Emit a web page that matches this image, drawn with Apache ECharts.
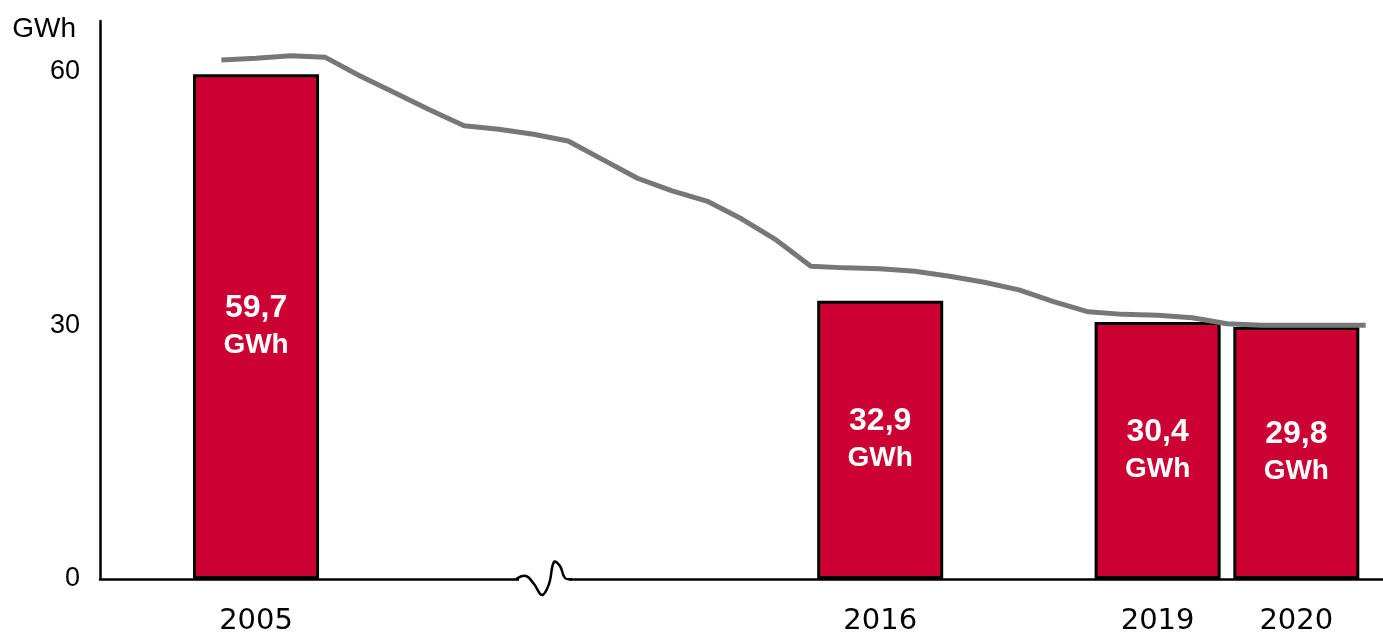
<!DOCTYPE html>
<html>
<head>
<meta charset="utf-8">
<script src="https://cdn.jsdelivr.net/npm/echarts@6/dist/echarts.min.js"></script>
<style>
  html, body { margin: 0; padding: 0; background: #fff; }
  #chart { width: 1383px; height: 638px; }
</style>
</head>
<body>
<div id="chart"></div>
<script>
  // axis slots, the gap between 2005 and 2016 is squeezed (axis break)
  const axisSlots = [
    '', '', '', '', '2005', '', '', '', '', '', '', '', '', '', '', '', '', '', '', '', '', '',
    '2016', '', '', '', '', '', '', '', '2019', '', '', '', '2020', '', ''
  ]
  const years = ['2005', '2016', '2019', '2020']
  const energy = [59.7, 32.9, 30.4, 29.8] // GWh
  const energyText = ['59,7', '32,9', '30,4', '29,8']
  // grey trend line, one value per slot
  const trend = [
    null, null, null, 61.4, 61.6, 61.9, 61.7, 59.5, 57.5, 55.5, 53.6, 53.2, 52.6, 51.8,
    49.6, 47.4, 45.9, 44.7, 42.6, 40.1, 37.0, 36.8, 36.7, 36.4, 35.8, 35.1, 34.2, 32.8,
    31.6, 31.3, 31.2, 30.9, 30.2, 30.0, 30.0, 30.0, 30.0
  ]
  const yTicks = [0, 30, 60]

  const barData = axisSlots.map(s => {
    const i = years.indexOf(s)
    return s && i > -1 ? energy[i] : null
  })

  const chart = echarts.init(document.getElementById('chart'))
  chart.setOption({
    animation: false,
    grid: { left: 100, right: 0, top: 21, bottom: 59 },
    xAxis: {
      type: 'category',
      data: axisSlots,
      axisLine: { lineStyle: { color: '#000', width: 2.5 } },
      axisTick: { show: false },
      axisLabel: {
        interval: 0,
        margin: 28,
        fontSize: 29,
        color: '#000',
        fontFamily: 'DejaVu Sans'
      },
      splitLine: { show: false }
    },
    yAxis: {
      type: 'value',
      min: 0,
      max: 66,
      interval: 30,
      name: 'GWh',
      nameLocation: 'end',
      nameGap: -8,
      nameTextStyle: {
        align: 'right',
        verticalAlign: 'middle',
        fontSize: 28,
        color: '#000',
        fontFamily: 'Liberation Sans',
        padding: [0, 24, 0, 0]
      },
      axisLine: { show: true, lineStyle: { color: '#000', width: 2.5 } },
      axisTick: { show: false },
      splitLine: { show: false },
      axisLabel: {
        margin: 20,
        fontSize: 27,
        color: '#000',
        fontFamily: 'Liberation Sans',
        formatter: v => (yTicks.indexOf(v) > -1 ? v : '')
      }
    },
    series: [
      {
        name: 'Energie',
        type: 'bar',
        data: barData,
        barWidth: 126,
        itemStyle: { color: '#cc0033', borderColor: '#000', borderWidth: 3 },
        label: {
          show: true,
          position: 'inside',
          formatter: p => '{v|' + energyText[years.indexOf(p.name)] + '}\n{u|GWh}',
          rich: {
            v: { fontSize: 32, fontWeight: 'bold', color: '#fff', fontFamily: 'Liberation Sans', lineHeight: 37 },
            u: { fontSize: 28, fontWeight: 'bold', color: '#fff', fontFamily: 'Liberation Sans', lineHeight: 37 }
          }
        },
        z: 2
      },
      {
        name: 'Verlauf',
        type: 'line',
        data: trend,
        symbol: 'none',
        lineStyle: { color: '#777', width: 5 },
        z: 3
      }
    ],
    graphic: [
      // break mark on the x axis
      { type: 'rect', shape: { x: 519, y: 573, width: 50, height: 12 }, style: { fill: '#fff' }, z: 10 },
      {
        type: 'polyline',
        shape: {
          points: [[516, 579], [526, 576], [534, 584], [542, 595], [549, 584], [554, 562], [560, 566], [565, 578], [572, 579]],
          smooth: 0.4
        },
        style: { fill: 'none', stroke: '#000', lineWidth: 2.5 },
        z: 11
      }
    ]
  })
</script>
</body>
</html>
